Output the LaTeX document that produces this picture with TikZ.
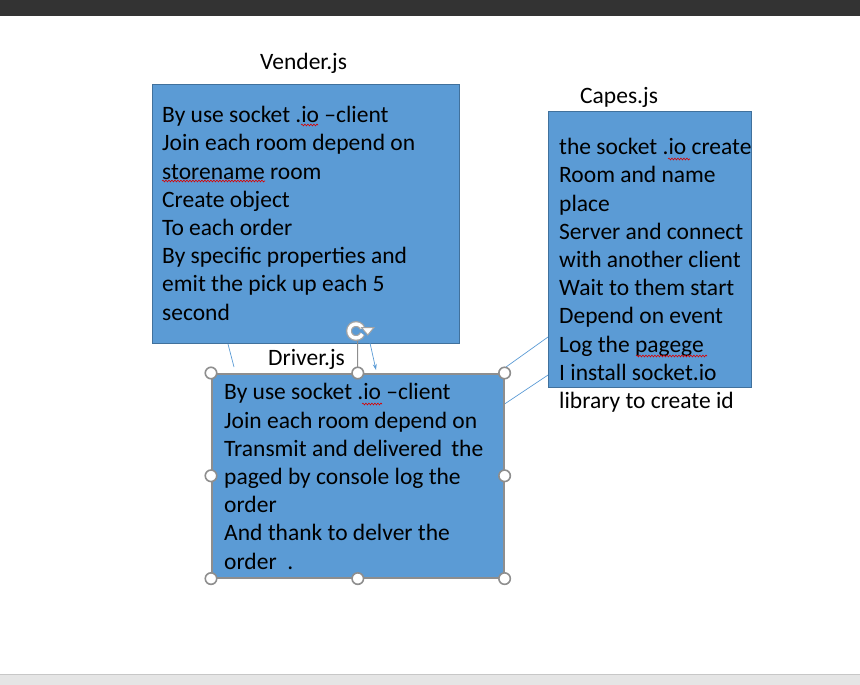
\documentclass[tikz,border=0pt]{standalone}
\usepackage{fontspec}
\setmainfont{Carlito}
\usetikzlibrary{decorations.pathmorphing,arrows.meta,calc}
\definecolor{boxblue}{HTML}{5B9BD5}
\definecolor{boxedge}{HTML}{41719C}
\definecolor{handlegray}{HTML}{8E8E8E}
\definecolor{linkblue}{HTML}{5B9BD5}
\tikzset{
  shapebox/.style={draw=boxedge,line width=0.8pt,fill=boxblue,rectangle,inner sep=0pt},
  selbox/.style={draw=handlegray,line width=1.6pt,fill=boxblue,rectangle,inner sep=0pt},
  bodytext/.style={anchor=base west,align=left,inner sep=0pt,font=\fontsize{23.5}{28.2}\selectfont},
  labeltext/.style={anchor=base west,inner sep=0pt,font=\fontsize{23.5}{28.2}\selectfont},
  handle/.style={circle,draw=handlegray,line width=1.6pt,fill=white,minimum size=11.5pt,inner sep=0pt},
  link/.style={draw=linkblue,line width=0.7pt},
  squig/.style={draw=red!85!black,line width=0.6pt,decorate,decoration={snake,amplitude=0.9pt,segment length=3pt}}
}
\begin{document}
\begin{tikzpicture}[x=1pt,y=-1pt]
\useasboundingbox (0,0) rectangle (860,685);
% window chrome
\fill[black!80] (0,0) rectangle (860,16);
\fill[black!10] (0,674) rectangle (860,685);
\draw[black!22,line width=1pt] (0,674) -- (860,674);

% boxes
\node[shapebox,anchor=north west,minimum width=307pt,minimum height=259pt] (vender) at (152,84) {};
\node[shapebox,anchor=north west,minimum width=203pt,minimum height=276pt] (capes) at (548,111) {};

% connectors
\coordinate (v1) at (228,344);
\coordinate (v2) at (234,367);
\draw[link] (v1) -- (v2);
\coordinate (a1) at (370,343);
\coordinate (a2) at (376,370);
\draw[link,-{Stealth[length=6pt,width=4pt]}] (a1) -- (a2);
\coordinate (r1) at (506,367);
\coordinate (r2) at (548,337);
\draw[link] (r1) -- (r2);
\coordinate (r3) at (503,405);
\coordinate (r4) at (548,375);
\draw[link] (r3) -- (r4);

\node[selbox,anchor=north west,minimum width=292pt,minimum height=204pt] (driver) at (211,373) {};

% rotation handle
\coordinate (rot) at (356,331);
\draw[handlegray,line width=1pt] (357.5,341) -- (driver.north);
\draw[handlegray!80,line width=6pt] (rot) ++(25:7) arc (25:335:7);
\draw[white,line width=3.4pt] (rot) ++(25:7) arc (25:335:7);
\draw[handlegray!80,line width=1pt,fill=white] (361.5,327.5) -- (374,327.5) -- (367.75,335) -- cycle;

% labels
\node[labeltext] (venderlabel) at (260,70) {Vender.js};
\node[labeltext] (capeslabel) at (580,103) {Capes.js};
\node[labeltext] (driverlabel) at (268,365) {Driver.js};

% texts (anchored at the baseline of the last line)
\node[bodytext] (vendertext) at (162,320) {By use socket .io –client\\Join each room depend on\\storename room\\Create object\\To each order\\By specific properties and\\emit the pick up each 5\\second};
\node[bodytext] (capestext) at (559,408.5) {the socket .io create\\Room and name\\place\\Server and connect\\with another client\\Wait to them start\\Depend on event\\Log the pagege\\I install socket.io\\library to create id};
\node[bodytext] (drivertext) at (224,569) {By use socket .io –client\\Join each room depend on\\Transmit and delivered\, the\\paged by console log the\\order\\And thank to delver the\\order\ \ .};

% spelling squiggles
\draw[squig] (301,125) -- (318,125);
\draw[squig] (162,181) -- (265,181);
\draw[squig] (668,159) -- (690,159);
\draw[squig] (636,356) -- (707,356);
\draw[squig] (362,404) -- (382,404);

% selection handles
\foreach \a [count=\i] in {north west,north,north east,west,east,south west,south,south east}
  \node[handle] (h\i) at (driver.\a) {};
\end{tikzpicture}
\end{document}
